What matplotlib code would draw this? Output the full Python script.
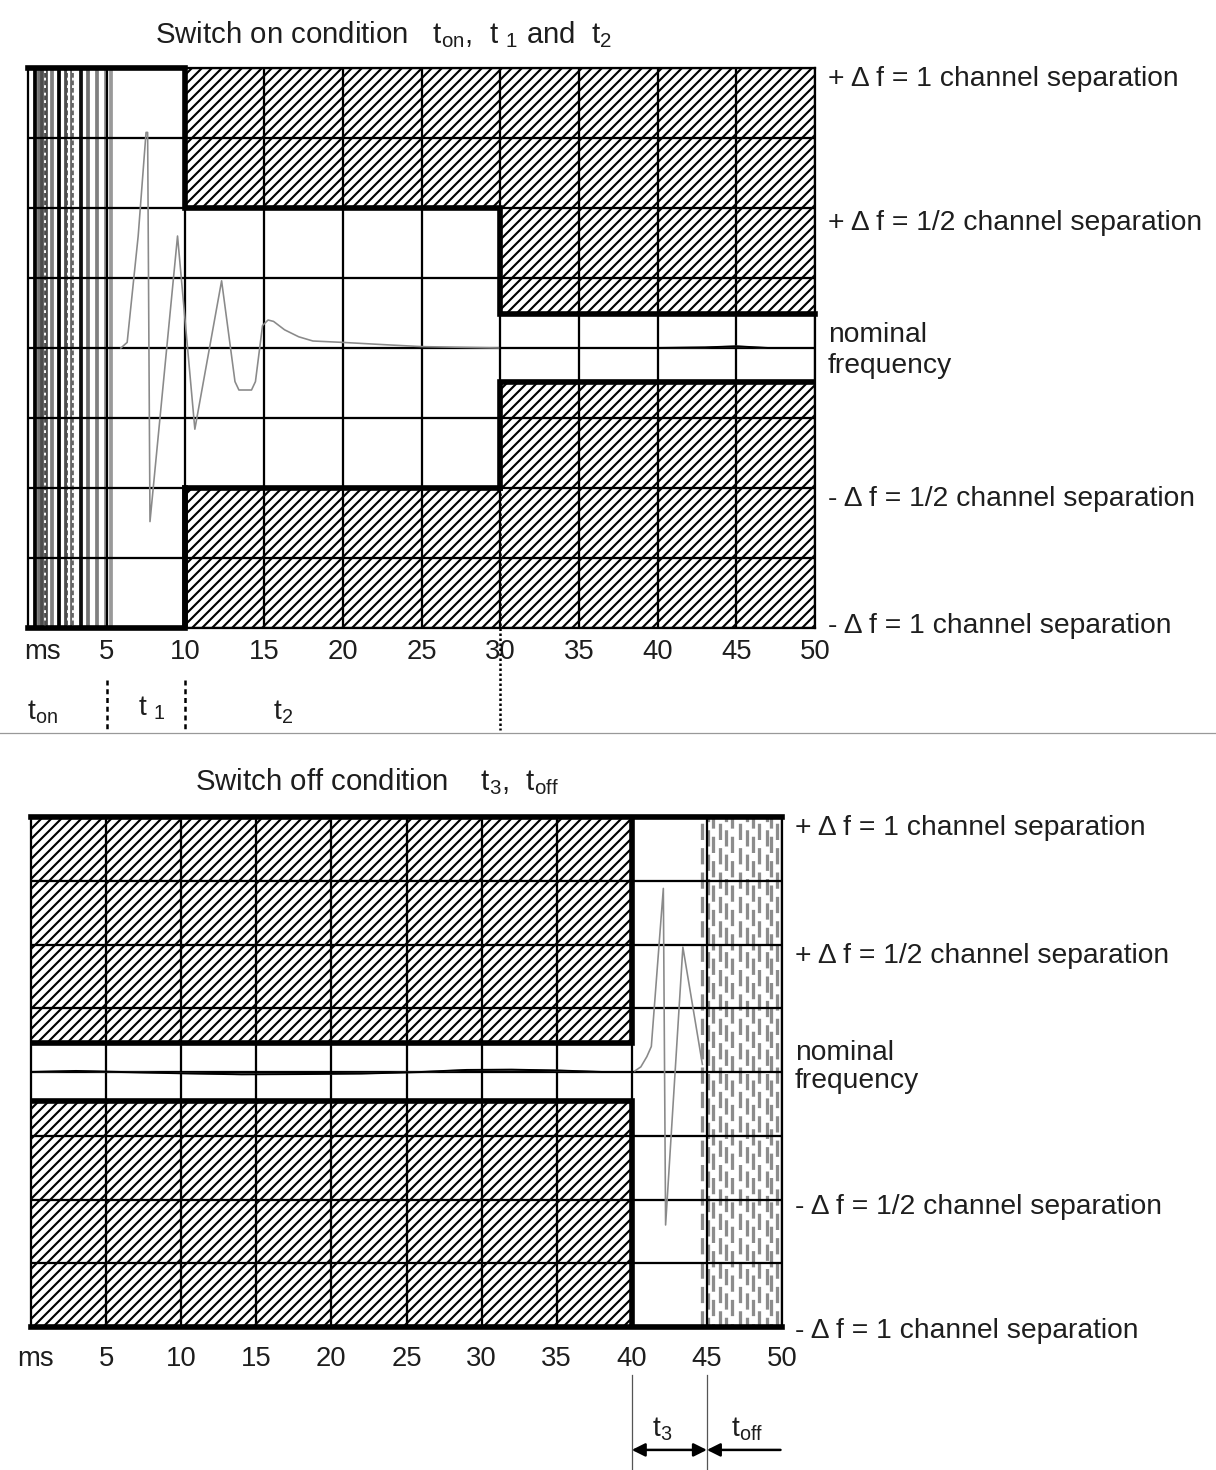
import numpy as np
import matplotlib
matplotlib.use('Agg')
import matplotlib.pyplot as plt
from matplotlib.lines import Line2D
import matplotlib.transforms as mtransforms

plt.rcParams['font.family'] = ['Liberation Sans', 'DejaVu Sans']
plt.rcParams['mathtext.fontset'] = 'custom'
plt.rcParams['mathtext.rm'] = 'Liberation Sans'
plt.rcParams['mathtext.it'] = 'Liberation Sans'
plt.rcParams['mathtext.bf'] = 'Liberation Sans:bold'
plt.rcParams['hatch.linewidth'] = 1.7

DPI = 90
W, H = 1216, 1470

# ---------------- data ----------------
time_ticks = [5, 10, 15, 20, 25, 30, 35, 40, 45, 50]
freq_grid = [-1, -0.75, -0.5, -0.25, 0, 0.25, 0.5, 0.75, 1]
level_labels = ["+ Δ f = 1 channel separation",
                "+ Δ f = 1/2 channel separation",
                "nominal\nfrequency",
                "- Δ f = 1/2 channel separation",
                "- Δ f = 1 channel separation"]
on_label_y = [0.96, 0.446, -0.01, -0.54, -0.993]
off_label_y = [0.957, 0.455, 0.02, -0.53, -1.016]

# switch-on mask (limits of permitted frequency deviation)
on_mask_t = [10, 30, 50]
on_mask_upper = [0.5, 0.12]
on_mask_lower = [-0.5, -0.12]
# switch-off mask
off_mask_t = [0, 40]
off_mask_upper = [0.115]
off_mask_lower = [-0.115]

# measured frequency deviation, switch on
on_t = [5.9, 6.3, 7.0, 7.5, 7.6, 7.75, 9.5, 10.6, 12.3, 13.15, 13.4, 14.2, 14.45,
        14.9, 15.25, 15.6, 16.3, 17.2, 18.1, 20.0, 22.6, 25.0, 30.0, 35.0, 40.0,
        43.0, 45.0, 47.0, 50.0]
on_f = [0.0, 0.02, 0.4, 0.77, 0.77, -0.62, 0.40, -0.29, 0.24, -0.12, -0.15, -0.15, -0.12,
        0.08, 0.10, 0.095, 0.065, 0.04, 0.025, 0.02, 0.012, 0.005, 0.0, 0.0, 0.0,
        0.002, 0.006, 0.0, 0.0]

# measured frequency deviation, switch off
off_t = [0, 3, 6, 10, 14, 18, 22, 26, 29, 32, 35, 38, 40.1, 40.6, 41.0, 41.3,
         42.1, 42.25, 43.4, 44.7]
off_f = [0, 0.004, 0.0, -0.005, -0.009, -0.008, -0.006, 0.0, 0.008, 0.009, 0.006, 0.0,
         0.0, 0.02, 0.06, 0.1, 0.72, -0.6, 0.49, 0.03]

# transmitter-off noise stripes
on_stripe_t = [0.45, 0.7, 0.9, 1.15, 1.55, 2.0, 2.4, 2.8, 3.35, 3.8, 4.4, 4.95, 5.25]
on_stripe_shade = [0.0, 0.45, 0.3, 0.3, 0.5, 0.0, 0.3, 0.4, 0.05, 0.45, 0.5, 0.55, 0.6]
on_stripe_dotted = [1.1, 2.55, 2.85]
off_stripe_t = [44.7, 45.1, 45.4, 45.9, 46.3, 46.7, 47.2, 47.7, 48.1, 48.5, 49.0, 49.3, 49.7]

# ---------------- figure ----------------
fig = plt.figure(figsize=(W / DPI, H / DPI), dpi=DPI)
fig.patch.set_facecolor('white')

ax1 = fig.add_axes([28 / W, 1 - 628 / H, 787 / W, 560 / H])
ax2 = fig.add_axes([31 / W, 1 - 1327 / H, 751 / W, 510 / H])

GRID_LW = 1.8
THICK = 4.5
FS = 22.6
FS_T = 23.5
TXT = '#1e1e1e'
SIG_COL = '#8a8a8a'


def base_axes(ax, pad):
    ax.set_xlim(0, 50)
    ax.set_ylim(-1, 1)
    ax.set_xticks(time_ticks)
    ax.set_xticklabels([str(t) for t in time_ticks])
    ax.set_yticks(freq_grid)
    ax.set_yticklabels([])
    ax.tick_params(length=0, labelsize=22, pad=pad, colors=TXT)
    ax.grid(True, color='black', lw=GRID_LW)
    ax.set_axisbelow(False)
    for s in ax.spines.values():
        s.set_linewidth(GRID_LW)
    trans = mtransforms.blended_transform_factory(ax.transData, ax.transAxes)
    return trans


def step_arrays(edges, levels):
    x = np.repeat(np.asarray(edges, float), 2)[1:-1]
    y = np.repeat(np.asarray(levels, float), 2)
    return x, y


# ---------- top panel: switch on ----------
tr1 = base_axes(ax1, 9)
ux, uy = step_arrays(on_mask_t, on_mask_upper)
lx, ly = step_arrays(on_mask_t, on_mask_lower)
ax1.fill_between(ux, uy, 1, facecolor='white', edgecolor='black', lw=0, hatch='///', zorder=1)
ax1.fill_between(lx, -1, ly, facecolor='white', edgecolor='black', lw=0, hatch='///', zorder=1)
# thick limit lines
ax1.plot(np.r_[0, on_mask_t[0], ux], np.r_[1, 1, uy], color='black', lw=THICK,
         solid_joinstyle='miter', zorder=4, clip_on=False)
ax1.plot(np.r_[0, on_mask_t[0], lx[:2]], np.r_[-1, -1, ly[:2]], color='black', lw=THICK,
         solid_joinstyle='miter', zorder=4, clip_on=False)
ax1.plot(lx[1:], ly[1:], color='black', lw=THICK, solid_joinstyle='miter', zorder=4)
ax1.plot([on_mask_t[0], on_mask_t[0]], [-1, on_mask_lower[0]], color='black', lw=THICK, zorder=4)
# off-state stripes
for t, s in zip(on_stripe_t, on_stripe_shade):
    ax1.axvline(t, color=str(s), lw=3.0, zorder=2)
for t in on_stripe_dotted:
    ax1.axvline(t, color='white', lw=1.5, ls=(0, (1.5, 2.5)), zorder=2.2)
# signal
ax1.plot(on_t, on_f, color=SIG_COL, lw=1.3, zorder=3)
ax1.plot(on_t[22:], on_f[22:], color='black', lw=1.6, zorder=3)

# labels right
for txt, y in zip(level_labels, on_label_y):
    ax1.text(1.0165, y, txt, transform=mtransforms.blended_transform_factory(ax1.transAxes, ax1.transData),
             fontsize=FS, ha='left', va='center', linespacing=1.25, color=TXT)
ax1.annotate('ms', xy=(0.9, 0), xycoords=tr1, xytext=(0, -9), textcoords='offset points',
             ha='center', va='top', fontsize=22, color=TXT)

# time phases below axis
for t in [5, 10]:
    ax1.plot([t, t], [-1.186, -1.364], color='black', lw=2, ls=(0, (2, 1.5)), clip_on=False)
ax1.plot([30, 30], [-0.5, -1.364], color='black', lw=2, ls=(0, (1, 1)), clip_on=False, zorder=5)
ax1.text(0.9, -1.30, 't$_{\\mathrm{on}}$', fontsize=FS, ha='center', va='center', color=TXT)
ax1.text(7.9, -1.285, 't $_{1}$', fontsize=FS, ha='center', va='center', color=TXT)
ax1.text(16.2, -1.30, 't$_{2}$', fontsize=FS, ha='center', va='center', color=TXT)

fig.text(155 / W, 1 - 35 / H,
         'Switch on condition   t$_{\\mathrm{on}}$,  t $_{1}$ and  t$_{2}$',
         fontsize=FS_T, ha='left', va='center', color=TXT)

# separator
fig.add_artist(Line2D([0, 1], [1 - 733 / H] * 2, color='#999999', lw=1))

# ---------- bottom panel: switch off ----------
tr2 = base_axes(ax2, 15)
ux2, uy2 = step_arrays(off_mask_t, off_mask_upper)
lx2, ly2 = step_arrays(off_mask_t, off_mask_lower)
ax2.fill_between(ux2, uy2, 1, facecolor='white', edgecolor='black', lw=0, hatch='///', zorder=1)
ax2.fill_between(lx2, -1, ly2, facecolor='white', edgecolor='black', lw=0, hatch='///', zorder=1)
x_end = off_mask_t[-1]
ax2.plot(np.r_[ux2, x_end], np.r_[uy2, 1], color='black', lw=THICK, solid_joinstyle='miter', zorder=4)
ax2.plot(np.r_[lx2, x_end], np.r_[ly2, -1], color='black', lw=THICK, solid_joinstyle='miter', zorder=4)
ax2.plot([0, 50], [1, 1], color='black', lw=THICK, zorder=4, clip_on=False)
ax2.plot([0, 50], [-1, -1], color='black', lw=THICK, zorder=4, clip_on=False)
for i, t in enumerate(off_stripe_t):
    ax2.axvline(t, color='#8c8c8c', lw=2.6, ls=(i % 3 * 2, (5, 2.5)), zorder=2)
ax2.plot(off_t, off_f, color=SIG_COL, lw=1.3, zorder=3)
ax2.plot(off_t[:13], off_f[:13], color='black', lw=1.6, zorder=3)

for txt, y in zip(level_labels, off_label_y):
    ax2.text(1.017, y, txt, transform=mtransforms.blended_transform_factory(ax2.transAxes, ax2.transData),
             fontsize=FS, ha='left', va='center', linespacing=1.12, color=TXT)
ax2.annotate('ms', xy=(0.27, 0), xycoords=tr2, xytext=(0, -15), textcoords='offset points',
             ha='center', va='top', fontsize=22, color=TXT)

for t in [40, 45]:
    ax2.plot([t, t], [-1.188, -1.58], color='#555555', lw=1, clip_on=False)
ax2.annotate('', xy=(40, -1.482), xytext=(45, -1.482), xycoords='data',
             arrowprops=dict(arrowstyle='<|-|>', color='black', lw=2, mutation_scale=22,
                             shrinkA=0, shrinkB=0), annotation_clip=False)
ax2.annotate('', xy=(45, -1.482), xytext=(49.9, -1.482), xycoords='data',
             arrowprops=dict(arrowstyle='-|>', color='black', lw=2, mutation_scale=22,
                             shrinkA=0, shrinkB=0), annotation_clip=False)
ax2.text(42.0, -1.40, 't$_{3}$', fontsize=FS, ha='center', va='center', color=TXT)
ax2.text(47.7, -1.40, 't$_{\\mathrm{off}}$', fontsize=FS, ha='center', va='center', color=TXT)

fig.text(195 / W, 1 - 782 / H, 'Switch off condition    t$_{3}$,  t$_{\\mathrm{off}}$',
         fontsize=FS_T, ha='left', va='center', color=TXT)

fig.savefig('out.png', dpi=DPI, facecolor='white')
